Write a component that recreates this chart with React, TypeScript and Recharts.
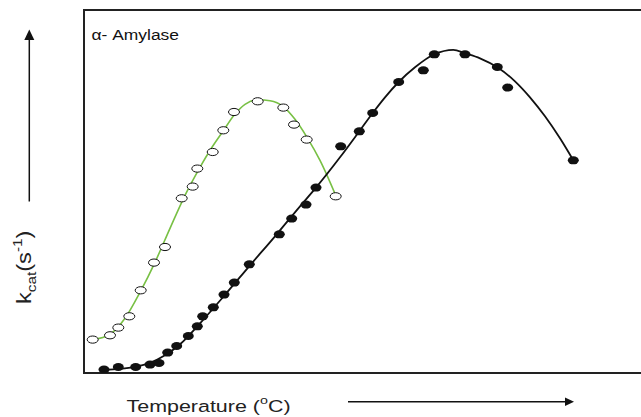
import React from 'react';
import { ComposedChart, Line, Scatter, XAxis, YAxis, ReferenceArea } from 'recharts';

// Arbitrary units (temperature, kcat)
const greenTemp = [8.7, 26, 34.3, 45.3, 56.7, 70, 81, 97.7, 108.7, 113.3, 128.7, 139.3, 150, 173.7, 199.3, 210, 222.7, 251.7];
const greenKcat = [33.4, 37.7, 45.4, 56.7, 82.7, 110.4, 126, 174.7, 186.4, 204.4, 221, 242.7, 261, 271.7, 265.4, 248.4, 233.4, 176.7];

const greenFitTemp = [8.7, 26, 41, 56, 71, 86, 101, 116, 128, 139, 150, 161, 174, 186, 199, 211, 223, 236, 251.7];
const greenFitKcat = [33.2, 38.7, 54.7, 80.7, 110.7, 144.7, 177.7, 205.7, 225.7, 241.7, 257.7, 268.7, 273.2, 272.2, 266.7, 253.7, 235.7, 212.7, 177.7];

const blackTemp = [20, 34.3, 51.7, 66, 75, 83.7, 92.7, 104.3, 113.3, 118.7, 129.3, 140, 150.3, 165.3, 195.3, 207.7, 222, 232, 256.7, 275.3, 288.7, 314.7, 339.3, 350.3, 381, 413.3, 423.7, 489.3];
const blackKcat = [3.4, 6, 6, 8.4, 10, 20.4, 27, 37, 46.7, 56.7, 65.7, 78.4, 90.4, 108.7, 138.7, 154.4, 168.4, 185.4, 226.7, 241.7, 260, 291, 302.7, 318.7, 318.7, 306, 285.4, 212.7];

const blackFitTemp = [20, 36, 51, 66, 81, 96, 116, 141, 166, 191, 216, 232, 256, 275.3, 288.7, 301, 314.7, 331, 350.3, 369.3, 381, 396, 413.3, 431, 446, 461, 476, 489.3];
const blackFitKcat = [3.2, 4.2, 6.2, 10.2, 17.7, 28.7, 49.7, 78.2, 107.7, 136.7, 166.7, 185.4, 215.7, 241.7, 260, 275.7, 291, 305.7, 318.7, 323.2, 319.7, 314.7, 305.7, 291.7, 275.7, 256.7, 234.7, 212.7];

const xDomain = [0, 561];
const yDomain = [0, 363];

const zip = (xs: number[], ys: number[]) => xs.map((x, i) => ({ x, y: ys[i] }));

const greenPts = zip(greenTemp, greenKcat);
const greenFit = zip(greenFitTemp, greenFitKcat);
const blackPts = zip(blackTemp, blackKcat);
const blackFit = zip(blackFitTemp, blackFitKcat);

const GREEN = '#78c044';

const OpenDot = (p: any) => (
  <ellipse cx={p.cx} cy={p.cy} rx={5.5} ry={3.6} fill="#fff" stroke="#111" strokeWidth={1} />
);
const FilledDot = (p: any) => (
  <ellipse cx={p.cx} cy={p.cy} rx={5.5} ry={4} fill="#111" stroke="none" />
);

export default function App() {
  const font = '"Liberation Sans", Arial, sans-serif';
  return (
    <div style={{ position: 'absolute', left: 0, top: 0, width: 641, height: 417, overflow: 'hidden', background: '#fff' }}>
      <ComposedChart width={645} height={417} margin={{ top: 10, right: 0, bottom: 44, left: 84 }}>
        <XAxis type="number" dataKey="x" domain={xDomain} hide allowDataOverflow />
        <YAxis type="number" domain={yDomain} hide allowDataOverflow />
        <ReferenceArea x1={0} x2={561} y1={0} y2={363} fill="none" fillOpacity={0} stroke="#222" strokeWidth={2} ifOverflow="visible" />
        <Line data={greenFit} dataKey="y" type="monotone" stroke={GREEN} strokeWidth={1.6} dot={false} activeDot={false} isAnimationActive={false} />
        <Line data={blackFit} dataKey="y" type="monotone" stroke="#111" strokeWidth={1.8} dot={false} activeDot={false} isAnimationActive={false} />
        <Scatter data={greenPts} dataKey="y" shape={OpenDot} isAnimationActive={false} />
        <Scatter data={blackPts} dataKey="y" shape={FilledDot} isAnimationActive={false} />
      </ComposedChart>
      <svg width={641} height={417} style={{ position: 'absolute', left: 0, top: 0, pointerEvents: 'none' }}>
        <text x={91.5} y={39.5} fontSize={15.5} fontFamily={font} fill="#111" textLength={87.5} lengthAdjust="spacingAndGlyphs">α- Amylase</text>
        {/* x label */}
        <g transform="translate(126.5,411.5) scale(1.3,1)" fontFamily={font} fill="#222">
          <text x={0} y={0} fontSize={16.5}>
            Temperature (<tspan fontSize={11} dy={-8}>o</tspan><tspan fontSize={16.5} dy={8}>C)</tspan>
          </text>
        </g>
        <line x1={348} y1={401.7} x2={566} y2={401.7} stroke="#111" strokeWidth={1.5} />
        <polygon points="574,401.7 565,397.5 565,405.9" fill="#111" />
        {/* y label */}
        <g transform="translate(30.5,304) rotate(-90) scale(1.18,1)" fontFamily={font} fill="#222">
          <text x={0} y={0} fontSize={20}>
            k<tspan fontSize={13} dy={5}>cat</tspan><tspan fontSize={20} dy={-5}>(s</tspan><tspan fontSize={13} dy={-9}>-1</tspan><tspan fontSize={20} dy={9}>)</tspan>
          </text>
        </g>
        <line x1={29.3} y1={39} x2={29.3} y2={201.5} stroke="#111" strokeWidth={1.5} />
        <polygon points="29.3,29.5 24.3,40 34.3,40" fill="#111" />
      </svg>
    </div>
  );
}
